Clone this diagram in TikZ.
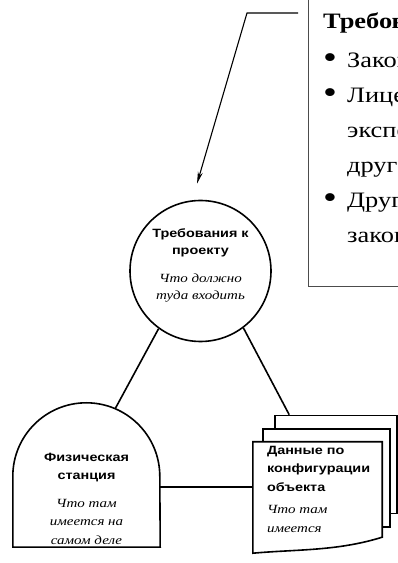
\documentclass[tikz,border=0pt]{standalone}
\usepackage{fontspec}
\setmainfont{Liberation Serif}[FakeStretch=1.2]
\newfontfamily\boxfont{Liberation Sans}[FakeStretch=1.2]
\usetikzlibrary{calc,positioning,arrows.meta}
\tikzstyle{line} = [line width=1.6pt]
\tikzstyle{arrow} = [line width=1.1pt,-{Stealth[length=12pt,width=5pt]}]
\newcommand{\hint}[1]{{\normalfont\itshape\fontsize{12.5}{18}\selectfont #1}}
\newcommand{\dotitem}{\makebox[24pt][l]{\raisebox{-1pt}{\scalebox{1.5}{\textbullet}}}}

\begin{document}
\begin{tikzpicture}[x=1pt,y=1pt]
\tikzset{%
	reqcircle/.style = { circle, draw=black, line width=1.6pt, minimum size=141pt, inner sep=0pt, align=center, font=\boxfont\bfseries\fontsize{12}{17}\selectfont },
	stone/.style = { rectangle, minimum width=147pt, minimum height=144pt },
	sheet/.style = { rectangle, draw=black, fill=white, line width=1.6pt, minimum width=127pt, minimum height=98pt },
	caption/.style = { inner sep=0pt, font=\boxfont\bfseries\fontsize{12}{18.5}\selectfont },
	calloutbox/.style = { rectangle, draw=black!70, line width=0.8pt, minimum width=130pt, minimum height=300pt }
}
\useasboundingbox (0,0) rectangle (398,563);
\clip (0,0) rectangle (398,563);

\node(Callout)		[calloutbox, anchor=south west] at (308,276) {};
\node(CalloutText)	[anchor=north west, inner sep=0pt, align=left, font=\fontsize{22}{35}\selectfont,
						below right=26pt and 15pt of Callout.north west]
								{\textbf{Требов}\\[4pt]
								 \dotitem Закон\\
								 \dotitem Лице\\
								 \hspace*{24pt}экспе\\
								 \hspace*{24pt}друг\\
								 \dotitem Друг\\
								 \hspace*{24pt}закон};

\node(Requirements)	[reqcircle] at (200.5,292)
								{Требования к\\проекту\\[11pt]
								 \hint{Что должно}\\\hint{туда входить}\rule[-14pt]{0pt}{14pt}};

\node(Station)		[stone] at (86.5,88) {};

\node(DataBack)		[sheet, minimum width=122pt] at (336,98.5) {};
\node(DataMid)		[sheet] at (326.5,85) {};
\node(DataFront)	[rectangle, minimum width=129pt, minimum height=103pt] at (317.5,69.5) {};

\coordinate (LeaderStart) at (298,550);
\coordinate (LeaderBend) at (247,550);
\coordinate (ArrowTip) at ([shift={(-3.5,16)}]Requirements.north);
\coordinate (StationArc) at ($(Station.north)+(0,-73.5)+(67:73.5)$);
\coordinate (DataTop) at ([xshift=15pt]DataBack.north west);

% tombstone outline
\draw [line, fill=white] (Station.south west) -- ([yshift=-73.5pt]Station.north west)
		arc [start angle=180, end angle=0, radius=73.5pt] -- (Station.south east) -- cycle;
\node(StationText)	[caption, align=center, below=50pt of Station.north]
								{Физическая\\станция\\[9pt]
								 \hint{Что там}\\\hint{имеется на}\\\hint{самом деле}};
% front page with wavy bottom
\draw [line, fill=white] (DataFront.north west) -- (DataFront.north east) -- ([yshift=8pt]DataFront.south east)
		.. controls +(-45,-14) and +(45,4) .. ([yshift=-8pt]DataFront.south west) -- cycle;
\node(DataText)		[caption, align=left, below right=4pt and 14pt of DataFront.north west]
								{Данные по\\конфигурации\\объекта\\[4pt]
								 \hint{Что там}\\\hint{имеется}};

\draw [line]		(Requirements.234) -- (StationArc);
\draw [line]		(Requirements.307) -- (DataTop);
\draw [line]		([yshift=-12pt]Station.east) -- ([yshift=-12pt]Station.east -| DataFront.west);

\draw [arrow]	(LeaderStart) -- (LeaderBend) -- (ArrowTip);
\end{tikzpicture}
\end{document}
